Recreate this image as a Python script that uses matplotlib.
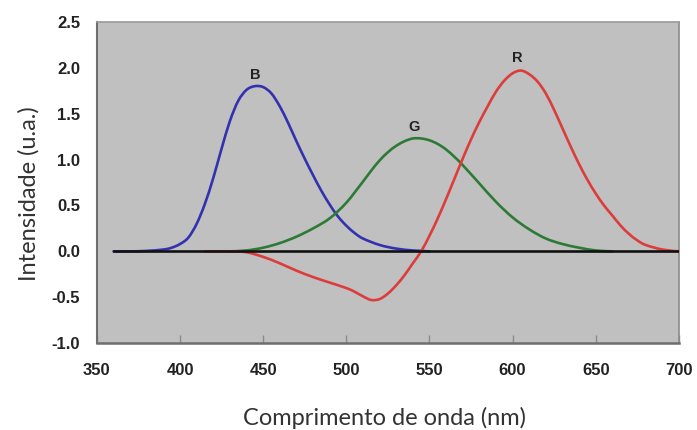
import matplotlib
matplotlib.use("Agg")
import matplotlib.pyplot as plt
from matplotlib.path import Path
from matplotlib.patches import PathPatch

# Wavelength (nm) and colour-matching intensities (a.u.)
b_wl = [360, 370, 380, 390, 395, 400, 405, 410, 415, 420, 425, 430, 435, 440, 445,
        450, 455, 460, 465, 470, 475, 480, 485, 490, 495, 500, 505, 510, 520, 530,
        540, 550]
b_val = [0.0, 0.0, 0.005, 0.02, 0.04, 0.08, 0.15, 0.30, 0.52, 0.80, 1.12, 1.42, 1.64,
         1.76, 1.80, 1.79, 1.72, 1.58, 1.40, 1.20, 1.01, 0.83, 0.66, 0.51, 0.38, 0.28,
         0.20, 0.14, 0.07, 0.03, 0.01, 0.0]

g_wl = [430, 440, 450, 460, 470, 480, 490, 500, 510, 515, 520, 525, 530, 535, 540,
        545, 550, 555, 560, 565, 570, 580, 590, 600, 610, 620, 630, 640, 650, 660]
g_val = [0.0, 0.01, 0.04, 0.09, 0.16, 0.25, 0.36, 0.53, 0.76, 0.88, 0.99, 1.08, 1.15,
         1.20, 1.23, 1.23, 1.21, 1.17, 1.11, 1.03, 0.94, 0.74, 0.54, 0.37, 0.24, 0.14,
         0.08, 0.04, 0.01, 0.0]

r_wl = [415, 430, 440, 450, 460, 470, 480, 490, 500, 505, 510, 515, 520, 525, 530,
        535, 540, 545, 550, 555, 560, 565, 570, 575, 580, 585, 590, 595, 600, 605,
        610, 615, 620, 625, 630, 635, 640, 645, 650, 655, 660, 665, 670, 675, 680,
        690, 700]
r_val = [0.0, 0.0, -0.01, -0.06, -0.13, -0.21, -0.28, -0.34, -0.40, -0.44, -0.49,
         -0.53, -0.52, -0.46, -0.37, -0.26, -0.13, 0.0, 0.17, 0.36, 0.57, 0.79, 1.01,
         1.22, 1.41, 1.58, 1.74, 1.86, 1.94, 1.97, 1.93, 1.85, 1.72, 1.54, 1.34, 1.14,
         0.95, 0.78, 0.63, 0.50, 0.39, 0.28, 0.19, 0.12, 0.07, 0.02, 0.0]

zero_wl = [360, 700]
zero_val = [0.0, 0.0]

# Curve labels: text, wavelength, height
peak_labels = [("B", 445, 1.92), ("G", 541, 1.36), ("R", 603, 2.11)]

x_ticks = [350, 400, 450, 500, 550, 600, 650, 700]
y_ticks = [-1.0, -0.5, 0.0, 0.5, 1.0, 1.5, 2.0, 2.5]


def smooth_line(ax, xs, ys, color, lw, zorder):
    """Draw a smoothed (cubic Bezier, Catmull-Rom style) line through the points."""
    pts = list(zip(xs, ys))
    n = len(pts)
    verts = [pts[0]]
    codes = [Path.MOVETO]
    for i in range(n - 1):
        p0 = pts[i - 1] if i > 0 else pts[i]
        p1 = pts[i]
        p2 = pts[i + 1]
        p3 = pts[i + 2] if i + 2 < n else pts[i + 1]
        c1 = (p1[0] + (p2[0] - p0[0]) / 6.0, p1[1] + (p2[1] - p0[1]) / 6.0)
        c2 = (p2[0] - (p3[0] - p1[0]) / 6.0, p2[1] - (p3[1] - p1[1]) / 6.0)
        verts += [c1, c2, p2]
        codes += [Path.CURVE4] * 3
    patch = PathPatch(Path(verts, codes), facecolor="none", edgecolor=color,
                      lw=lw, zorder=zorder, capstyle="round", joinstyle="round")
    ax.add_patch(patch)


fig = plt.figure(figsize=(6.97, 4.30), dpi=100)
ax = fig.add_axes([0.139, 0.202, 0.835, 0.747])
ax.set_facecolor("#c0c0c0")

lw = 1.9
smooth_line(ax, b_wl, b_val, "#3232b0", lw, 3)
smooth_line(ax, g_wl, g_val, "#2d7a36", lw, 3)
smooth_line(ax, r_wl, r_val, "#dc3c3c", lw, 3)
ax.plot(zero_wl, zero_val, color="#111111", lw=lw, zorder=4)

for txt, xw, yv in peak_labels:
    ax.text(xw, yv, txt, ha="center", va="center", fontsize=10.5,
            fontweight="bold", family="Liberation Sans", color="#222222")

ax.set_xlim(350, 700)
ax.set_ylim(-1.0, 2.5)
ax.set_xticks(x_ticks)
ax.set_yticks(y_ticks)
ax.set_xticklabels([str(v) for v in x_ticks])
ax.set_yticklabels([f"{v:.1f}" for v in y_ticks])

for lab in ax.get_xticklabels() + ax.get_yticklabels():
    lab.set_family("Liberation Sans")
    lab.set_fontweight("bold")
    lab.set_fontsize(12)
    lab.set_color("#222222")

ax.tick_params(axis="x", direction="in", length=6, width=1, color="#8a8a8a", pad=14)
ax.tick_params(axis="y", length=0, pad=12)

ax.spines["left"].set_color("#6e6e6e")
ax.spines["left"].set_linewidth(1.5)
ax.spines["bottom"].set_color("#6e6e6e")
ax.spines["bottom"].set_linewidth(1.8)
ax.spines["top"].set_color("#9a9a9a")
ax.spines["top"].set_linewidth(1.2)
ax.spines["right"].set_color("#8a8a8a")
ax.spines["right"].set_linewidth(1.2)

ax.set_xlabel("Comprimento de onda (nm)", family="Lato", fontsize=17,
              color="#333333")
ax.xaxis.set_label_coords(0.495, -0.198)
ax.set_ylabel("Intensidade (u.a.)", family="Lato", fontsize=17,
              color="#333333")
ax.yaxis.set_label_coords(-0.098, 0.467)

fig.savefig("out.png", dpi=100)
